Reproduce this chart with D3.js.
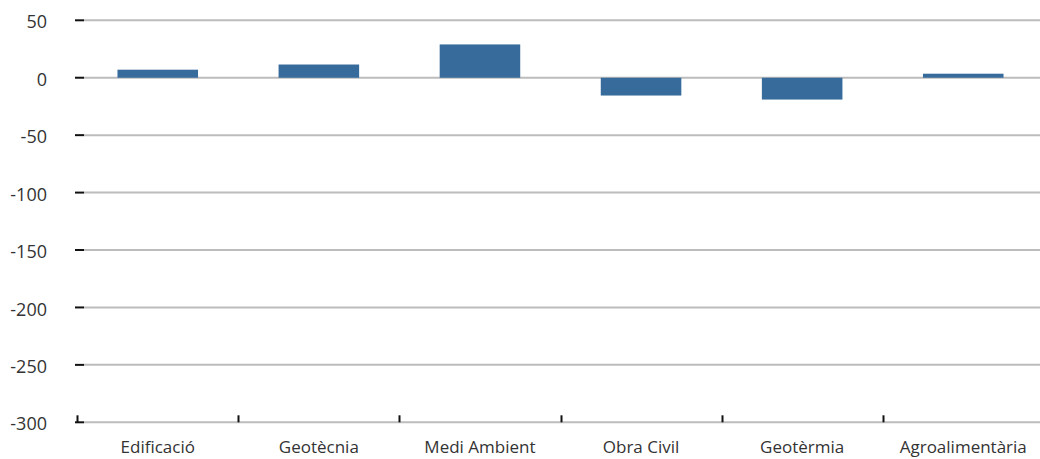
<!DOCTYPE html>
<html>
<head>
<meta charset="utf-8">
<script src="https://cdn.jsdelivr.net/npm/d3@7"></script>
<style>
  html, body { margin: 0; padding: 0; background: #fff; }
  svg { display: block; }
  text { font-family: "Open Sans", sans-serif; fill: #333; }
</style>
</head>
<body>
<svg id="chart" width="1040" height="459"></svg>
<script>
const categories = ["Edificació", "Geotècnia", "Medi Ambient", "Obra Civil", "Geotèrmia", "Agroalimentària"];
const values = [7, 11.5, 29, -15.5, -19, 3.5];
const yTicks = [50, 0, -50, -100, -150, -200, -250, -300];

const W = 1040, H = 459;
const svg = d3.select("#chart");

const x = d3.scaleBand().domain(categories).range([77.2, 1043.8]).padding(0);
const y = d3.scaleLinear().domain([-300, 50]).range([422.3, 20.3]);

// gridlines
svg.append("g").selectAll("line").data(yTicks).join("line")
  .attr("x1", 84).attr("x2", W)
  .attr("y1", d => y(d)).attr("y2", d => y(d))
  .attr("stroke", "#bcbcbc").attr("stroke-width", 2);

// y tick marks
svg.append("g").selectAll("line").data(yTicks).join("line")
  .attr("x1", 75).attr("x2", 84)
  .attr("y1", d => y(d)).attr("y2", d => y(d))
  .attr("stroke", "#111").attr("stroke-width", 2);

// y labels
svg.append("g").selectAll("text").data(yTicks).join("text")
  .attr("x", 47).attr("y", d => y(d))
  .attr("dy", "0.45em")
  .attr("text-anchor", "end")
  .style("font-size", "18px")
  .text(d => d);

// bars
const bw = x.bandwidth() * 0.5;
svg.append("g").selectAll("rect").data(values).join("rect")
  .attr("x", (d, i) => x(categories[i]) + (x.bandwidth() - bw) / 2)
  .attr("width", bw)
  .attr("y", d => y(Math.max(0, d)))
  .attr("height", d => Math.abs(y(d) - y(0)))
  .attr("fill", "#366b9c");

// bottom axis ticks at category boundaries
svg.append("g").selectAll("line").data(categories).join("line")
  .attr("x1", d => Math.round(x(d)) + 0.5).attr("x2", d => Math.round(x(d)) + 0.5)
  .attr("y1", y(-300)).attr("y2", y(-300) - 7)
  .attr("stroke", "#111").attr("stroke-width", 2);

// x labels
svg.append("g").selectAll("text").data(categories).join("text")
  .attr("x", d => x(d) + x.bandwidth() / 2)
  .attr("y", 453)
  .attr("text-anchor", "middle")
  .style("font-size", "17px")
  .text(d => d);
</script>
</body>
</html>
